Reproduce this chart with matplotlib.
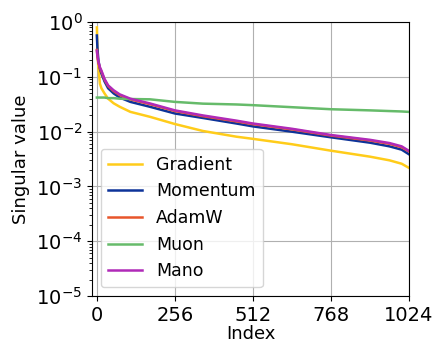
import matplotlib
matplotlib.use('Agg')
from matplotlib import pyplot as plt

idx = [0, 2, 5, 10, 15, 25, 37, 55, 75, 110, 174, 256, 348, 458, 512, 640, 768, 896, 960, 1000, 1023]

gradient = [0.8, 0.3, 0.15, 0.075, 0.062, 0.05, 0.040, 0.033, 0.0285, 0.023, 0.0187,
            0.0138, 0.0103, 0.0081, 0.0074, 0.0059, 0.0045, 0.0035, 0.0030, 0.0026, 0.0022]
momentum = [0.57, 0.32, 0.2, 0.14, 0.115, 0.083, 0.062, 0.050, 0.042, 0.035, 0.0285,
            0.0215, 0.0178, 0.0141, 0.0125, 0.0100, 0.0079, 0.0063, 0.0054, 0.0047, 0.0039]
adamw = [0.31, 0.23, 0.18, 0.145, 0.125, 0.089, 0.068, 0.055, 0.0465, 0.0388, 0.0318,
         0.0238, 0.0192, 0.0154, 0.0137, 0.011, 0.0085, 0.0069, 0.006, 0.0052, 0.0044]
muon = [0.042, 0.042, 0.042, 0.042, 0.042, 0.042, 0.041, 0.041, 0.040, 0.0395, 0.039,
        0.035, 0.0325, 0.0314, 0.0305, 0.028, 0.0257, 0.0245, 0.0238, 0.0234, 0.023]
mano = [0.30, 0.24, 0.19, 0.15, 0.13, 0.092, 0.07, 0.057, 0.048, 0.040, 0.0328,
        0.0245, 0.0198, 0.0159, 0.0141, 0.0113, 0.0087, 0.0071, 0.0062, 0.0054, 0.0045]

nombres = ['Gradient', 'Momentum', 'AdamW', 'Muon', 'Mano']
colores = ['#ffcc1a', '#0d3399', '#e8552b', '#66bb6a', '#b02ab8']
series = [gradient, momentum, adamw, muon, mano]

fig = plt.figure(figsize=(4.36, 3.46), dpi=100)
ax = fig.add_axes([0.211, 0.1445, 0.727, 0.7915])

for s, nombre, c in zip(series, nombres, colores):
    ax.semilogy(idx, s, color=c, lw=1.8, label=nombre)

ax.set_xlim(-16, 1024)
ax.set_ylim(1e-5, 1)
ax.set_xticks([0, 256, 512, 768, 1024])
ax.grid(True, which='major', color='#b0b0b0', lw=0.8)
ax.tick_params(labelsize=14)
ax.set_xlabel('Index', fontsize=13, labelpad=0)
ax.set_ylabel('Singular value', fontsize=13)
ax.legend(loc='lower left', fontsize=12.5)

fig.savefig('out.png', dpi=100)
